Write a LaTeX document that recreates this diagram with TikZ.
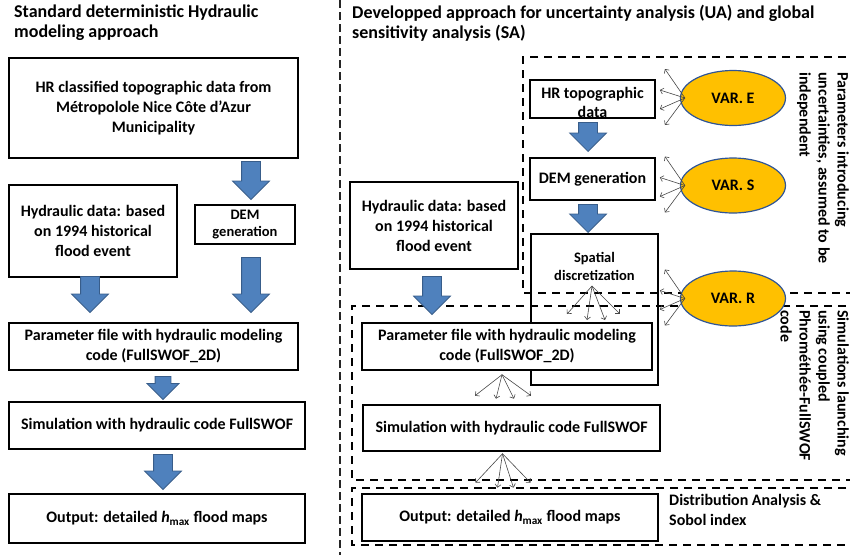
\documentclass[tikz,border=0pt]{standalone}
\usepackage{fontspec}
\setmainfont{Carlito}
\usepackage{tikz}
\usetikzlibrary{shapes.geometric, shapes.arrows, arrows.meta}
\definecolor{arrowBlue}{RGB}{79, 129, 189}
\definecolor{arrowEdge}{RGB}{56, 93, 138}
\definecolor{varYellow}{RGB}{255, 192, 0}
\definecolor{varEdge}{RGB}{47, 85, 151}

\begin{document}
\begin{tikzpicture}[x=1pt, y=-1pt,
    every node/.style={font=\fontsize{16}{20}\selectfont\bfseries},
    box/.style={draw, line width=1.4pt, fill=white, inner sep=0pt, align=center},
    flow/.style={single arrow, draw=arrowEdge, fill=arrowBlue, line width=0.8pt,
      rotate=-90, inner xsep=0pt, inner ysep=9pt, minimum width=36pt,
      single arrow head extend=9pt, anchor=tip},
    varell/.style={ellipse, draw=varEdge, fill=varYellow, line width=1.2pt,
      minimum width=105pt, minimum height=55pt, inner sep=0pt},
    fan/.style={-{Straight Barb[length=3pt, width=6pt]}, gray!55!black, line width=0.6pt},
    group/.style={dash pattern=on 8pt off 6pt, line width=2pt},
    title/.style={anchor=north west, align=left, inner sep=0pt, font=\fontsize{18}{20}\selectfont\bfseries},
    sidetext/.style={align=left, inner sep=0pt, font=\fontsize{16}{19}\selectfont\bfseries}]
  \useasboundingbox (0,0) rectangle (850,555);
  \clip (0,0) rectangle (850,555);

  % separation of the two approaches
  \draw[dash pattern=on 8pt off 4pt, line width=1.3pt, black!85] (340,0) -- (340,555);

  % standard approach
  \node[title] (titleL) at (14,5) {Standard deterministic Hydraulic\\modeling approach};
  \node[box, minimum width=289pt, minimum height=100pt] (hrL) at (153.5,108)
    {HR classified topographic data from\\Métropolole Nice Côte d’Azur\\Municipality};
  \node[box, minimum width=168pt, minimum height=92pt] (hydL) at (93,231)
    {Hydraulic data: based\\on 1994 historical\\flood event};
  \node[box, minimum width=100pt, minimum height=39pt, font=\fontsize{14.5}{17.5}\selectfont\bfseries] (demL) at (245,224.5)
    {DEM\\generation};
  \node[box, minimum width=289pt, minimum height=47pt] (parL) at (153.5,346.5)
    {Parameter file with hydraulic modeling\\code (FullSWOF\_2D)};
  \node[box, minimum width=296pt, minimum height=47pt] (simL) at (157,425.5)
    {Simulation with hydraulic code FullSWOF};
  \node[box, minimum width=296pt, minimum height=49pt] (outL) at (157,518.5)
    {Output: detailed \textit{h}\textsubscript{max} flood maps};

  \node[flow, minimum height=38pt] (ar1) at (251,200) {};
  \node[flow, minimum height=36pt] (ar2) at (90,313) {};
  \node[flow, minimum height=55pt] (ar3) at (251,313) {};
  \node[flow, minimum height=23pt, minimum width=31pt, inner ysep=7.5pt, single arrow head extend=8pt] (ar4) at (163,400) {};
  \node[flow, minimum height=35pt] (ar5) at (163,490) {};

  % developped approach
  \node[title] (titleR) at (352,5)
    {Developped approach for uncertainty analysis (UA) and global\\sensitivity analysis (SA)};

  \node[box, minimum width=127pt, minimum height=151pt] (spaR) at (594.5,309.5) {};
  \node[font=\fontsize{14.5}{18}\selectfont\bfseries, align=center, inner sep=0pt] (spaTxt) at (594.5,266) {Spatial\\discretization};

  \draw[group] (860,57) -| (523,293) -- (860,293);
  \draw[group] (860,306) -| (352,480) -- (860,480);
  \draw[group] (860,488) -| (352,545) -- (860,545);

  \node[box, minimum width=125pt, minimum height=38pt] (hrR) at (592.5,99) {};
  \node[align=center, inner sep=0pt, font=\fontsize{16}{19}\selectfont\bfseries] (hrTxt) at (592.5,102) {HR topographic\\data};
  \node[box, minimum width=125pt, minimum height=42pt] (demR) at (592.5,179) {DEM generation};
  \node[box, minimum width=168pt, minimum height=87pt] (hydR) at (434,225.5)
    {Hydraulic data: based\\on 1994 historical\\flood event};
  \node[box, minimum width=290pt, minimum height=47pt] (parR) at (507,346.5)
    {Parameter file with hydraulic modeling\\code (FullSWOF\_2D)};
  \node[box, minimum width=297pt, minimum height=46pt] (simR) at (511.5,428)
    {Simulation with hydraulic code FullSWOF};
  \node[box, minimum width=296pt, minimum height=47pt] (outR) at (510,517.5)
    {Output: detailed \textit{h}\textsubscript{max} flood maps};

  \node[flow, minimum height=29pt] (ar6) at (588,152) {};
  \node[flow, minimum height=28pt] (ar7) at (588,233) {};
  \node[flow, minimum height=38pt] (ar8) at (432,315) {};

  \node[varell] (varE) at (733,98) {VAR. E};
  \node[varell] (varS) at (733,185.5) {VAR. S};
  \node[varell] (varR) at (733,298.5) {VAR. R};

  % thin arrows spreading the sampled values
  \foreach \v in {varE, varS, varR}
    \foreach \dx/\dy in {-20/-29, -25/-8, -25/11, -20/27}
      \draw[fan] ([xshift=5pt]\v.west) -- ++(\dx,\dy);
  \coordinate (spaFan) at (592,286);
  \foreach \dx/\dy in {-25/28, -5/34, 13/34, 28/28}
    \draw[fan] (spaFan) -- ++(\dx,\dy);
  \foreach \dx/\dy in {-27/21, -6/24, 12/24, 29/21}
    \draw[fan] ([shift={(-5,4)}]parR.south) -- ++(\dx,\dy);
  \foreach \dx/\dy in {-27/29, -5/34, 11/34, 28/29}
    \draw[fan] ([shift={(-9,2)}]simR.south) -- ++(\dx,\dy);

  \node[sidetext, anchor=north west, rotate=-90] (parTxt) at (849,72)
    {Parameters introducing\\uncertainties, assumed to be\\independent};
  \node[sidetext, anchor=north west, rotate=-90] (simTxt) at (849,310)
    {Simulations launching\\using coupled\\Phrométhée-FullSWOF\\code};
  \node[sidetext, anchor=north west, font=\fontsize{16}{20}\selectfont\bfseries] (distTxt) at (669,494)
    {Distribution Analysis \&\\Sobol index};
\end{tikzpicture}
\end{document}
